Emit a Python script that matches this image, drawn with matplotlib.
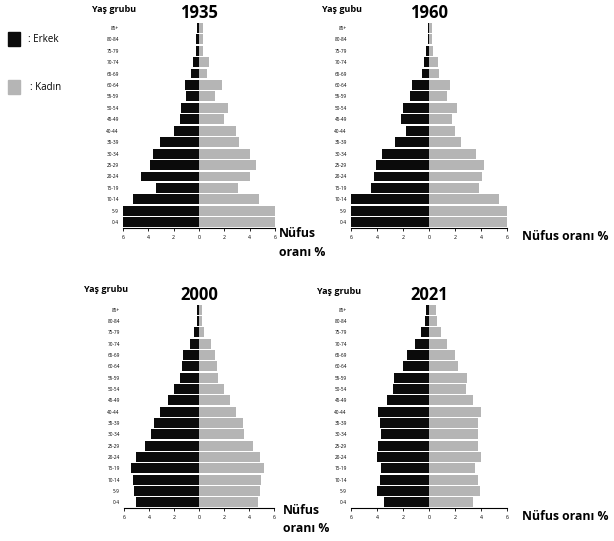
import numpy as np
import matplotlib
matplotlib.use("Agg")
import matplotlib.pyplot as plt

plt.rcParams['font.family'] = ['Open Sans', 'DejaVu Sans']

age_groups = ["0-4", "5-9", "10-14", "15-19", "20-24", "25-29", "30-34", "35-39",
              "40-44", "45-49", "50-54", "55-59", "60-64", "65-69", "70-74",
              "75-79", "80-84", "85+"]

# values listed from 0-4 up to 85+
erkek_1935 = [6.0, 6.0, 5.2, 3.4, 4.6, 3.85, 3.6, 3.05, 2.0, 1.5, 1.4, 1.0, 1.1, 0.6, 0.5, 0.25, 0.2, 0.15]
kadin_1935 = [6.0, 6.0, 4.7, 3.05, 4.0, 4.5, 4.0, 3.15, 2.95, 1.95, 2.3, 1.25, 1.85, 0.65, 0.8, 0.3, 0.35, 0.3]

erkek_1960 = [6.0, 6.0, 6.0, 4.45, 4.25, 4.1, 3.65, 2.65, 1.8, 2.15, 2.0, 1.45, 1.3, 0.55, 0.35, 0.2, 0.1, 0.1]
kadin_1960 = [6.0, 6.0, 5.35, 3.85, 4.05, 4.2, 3.6, 2.45, 2.0, 1.8, 2.15, 1.35, 1.65, 0.75, 0.7, 0.3, 0.25, 0.2]

erkek_2000 = [5.05, 5.2, 5.3, 5.45, 5.05, 4.35, 3.85, 3.6, 3.15, 2.5, 2.0, 1.55, 1.35, 1.25, 0.75, 0.4, 0.2, 0.15]
kadin_2000 = [4.75, 4.9, 4.95, 5.2, 4.9, 4.3, 3.6, 3.5, 2.95, 2.45, 2.0, 1.55, 1.45, 1.25, 0.95, 0.4, 0.2, 0.25]

erkek_2021 = [3.5, 4.0, 3.8, 3.7, 4.0, 3.9, 3.7, 3.8, 3.9, 3.25, 2.8, 2.7, 2.0, 1.7, 1.1, 0.6, 0.3, 0.2]
kadin_2021 = [3.4, 3.9, 3.75, 3.55, 4.0, 3.8, 3.75, 3.75, 4.0, 3.4, 2.85, 2.9, 2.2, 2.0, 1.4, 0.95, 0.65, 0.55]

x_ticks = [-6, -4, -2, 0, 2, 4, 6]
x_tick_labels = ["6", "4", "2", "0", "2", "4", "6"]

male_color = "#0b0b0b"
female_color = "#b5b5b5"

fig = plt.figure(figsize=(6.14, 5.41), dpi=100)
W, H = 614, 541


def px_axes(x0, x1, ytop, ybot):
    return fig.add_axes([x0 / W, 1 - ybot / H, (x1 - x0) / W, (ybot - ytop) / H])


def pyramid(ax, erkek, kadin, year):
    y = np.arange(len(age_groups))
    ax.barh(y, -np.array(erkek), height=0.86, color=male_color, edgecolor="none")
    ax.barh(y, kadin, height=0.86, color=female_color, edgecolor="none")
    ax.set_xlim(-6, 6)
    ax.set_ylim(-0.5, len(age_groups) - 0.5)
    ax.set_yticks(y)
    ax.set_yticklabels(age_groups, fontsize=3.4)
    ax.set_xticks(x_ticks)
    ax.set_xticklabels(x_tick_labels, fontsize=3.8)
    ax.tick_params(axis="y", length=0, pad=3)
    ax.tick_params(axis="x", length=2, width=0.6, pad=3)
    for s in ["top", "right", "left"]:
        ax.spines[s].set_visible(False)
    ax.spines["bottom"].set_linewidth(0.8)
    ax.set_title(year, fontsize=12, fontweight="bold", pad=1)


ax1 = px_axes(123, 275, 22, 228)
pyramid(ax1, erkek_1935, kadin_1935, "1935")
ax2 = px_axes(351, 507, 22, 228)
pyramid(ax2, erkek_1960, kadin_1960, "1960")
ax3 = px_axes(124, 274, 304, 508)
pyramid(ax3, erkek_2000, kadin_2000, "2000")
ax4 = px_axes(351, 507, 304, 508)
pyramid(ax4, erkek_2021, kadin_2021, "2021")

# labels
fig.text(92 / W, 1 - 10 / H, "Yaş grubu", fontsize=6.5, fontweight="bold", va="center")
fig.text(322 / W, 1 - 10 / H, "Yaş gubu", fontsize=6.5, fontweight="bold", va="center")
fig.text(84 / W, 1 - 289 / H, "Yaş grubu", fontsize=6.5, fontweight="bold", va="center")
fig.text(317 / W, 1 - 292 / H, "Yaş grubu", fontsize=6.5, fontweight="bold", va="center")

fig.text(279 / W, 1 - 243 / H, "Nüfus\noranı %", fontsize=8.8, fontweight="bold",
         va="center", linespacing=1.65)
fig.text(522 / W, 1 - 237 / H, "Nüfus oranı %", fontsize=8.8, fontweight="bold", va="center")
fig.text(283 / W, 1 - 519 / H, "Nüfus\noranı %", fontsize=8.8, fontweight="bold",
         va="center", linespacing=1.5)
fig.text(522 / W, 1 - 517 / H, "Nüfus oranı %", fontsize=8.8, fontweight="bold", va="center")

# legend
fig.patches.append(plt.Rectangle((8 / W, 1 - 46 / H), 12 / W, 14 / H, color=male_color,
                                 transform=fig.transFigure, figure=fig))
fig.text(28 / W, 1 - 40 / H, ": Erkek", fontsize=7, va="center")
fig.patches.append(plt.Rectangle((8 / W, 1 - 94 / H), 12 / W, 14 / H, color=female_color,
                                 transform=fig.transFigure, figure=fig))
fig.text(30 / W, 1 - 87 / H, ": Kadın", fontsize=7, va="center")

fig.savefig("out.png", dpi=100)
